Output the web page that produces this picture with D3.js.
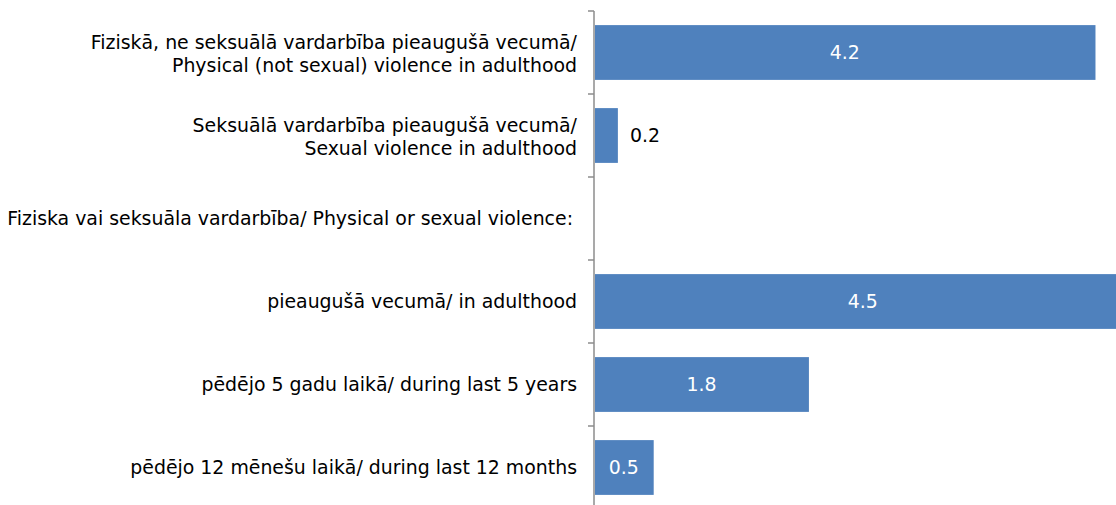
<!DOCTYPE html>
<html>
<head>
<meta charset="utf-8">
<script src="https://cdn.jsdelivr.net/npm/d3@7"></script>
<style>
  body { margin: 0; background: #fff; }
  svg { display: block; font-family: "DejaVu Sans", Verdana, sans-serif; }
</style>
</head>
<body>
<div id="chart"></div>
<script>
// Chart data
const categories = [
  ["Fiziskā, ne seksuālā vardarbība pieaugušā vecumā/", "Physical (not sexual) violence in adulthood"],
  ["Seksuālā vardarbība pieaugušā vecumā/", "Sexual violence in adulthood"],
  ["Fiziska vai seksuāla vardarbība/ Physical or sexual violence:"],
  ["pieaugušā vecumā/ in adulthood"],
  ["pēdējo 5 gadu laikā/ during last 5 years"],
  ["pēdējo 12 mēnešu laikā/ during last 12 months"]
]
const values = [4.2, 0.2, null, 4.5, 1.8, 0.5]
const labelOutside = [false, true, false, false, false, false]

const width = 1116
const height = 505
const axisX = 594
const fontSize = 18.9

const svg = d3.select("#chart").append("svg")
  .attr("width", width)
  .attr("height", height)

// y band scale, one band per category
const y = d3.scaleBand()
  .domain(d3.range(categories.length))
  .range([11, 509])
  .paddingInner(0.34)
  .paddingOuter(0.17)

// x linear scale
const x = d3.scaleLinear()
  .domain([0, 5])
  .range([axisX, axisX + 597])

const step = y.step()
const y0 = 11

// Axis line and ticks between categories
const axis = svg.append("g").attr("stroke", "#8c8c8c").attr("stroke-width", 1.5)
axis.append("line")
  .attr("x1", axisX).attr("x2", axisX)
  .attr("y1", y0).attr("y2", height)
axis.selectAll("line.tick")
  .data(d3.range(categories.length + 1))
  .enter().append("line")
    .attr("class", "tick")
    .attr("x1", axisX - 6).attr("x2", axisX)
    .attr("y1", d => y0 + d * step)
    .attr("y2", d => y0 + d * step)

// Bars
svg.append("g")
    .attr("fill", "#4f81bd")
  .selectAll("rect")
  .data(values.map((v, i) => ({ v, i })).filter(d => d.v != null))
  .enter().append("rect")
    .attr("x", x(0) + 1)
    .attr("y", d => y(d.i))
    .attr("width", d => x(d.v) - x(0) - 1)
    .attr("height", y.bandwidth())

// Value labels
svg.append("g")
    .attr("font-size", fontSize)
  .selectAll("text")
  .data(values.map((v, i) => ({ v, i })).filter(d => d.v != null))
  .enter().append("text")
    .attr("x", d => labelOutside[d.i] ? x(d.v) + 12 : (x(0) + x(d.v)) / 2)
    .attr("y", d => y(d.i) + y.bandwidth() / 2)
    .attr("dy", "0.36em")
    .attr("text-anchor", d => labelOutside[d.i] ? "start" : "middle")
    .attr("fill", d => labelOutside[d.i] ? "#000" : "#fff")
    .text(d => d.v.toFixed(1))

// Category labels
const catLabels = svg.append("g")
    .attr("font-size", fontSize)
    .attr("fill", "#000")
    .attr("text-anchor", "end")
  .selectAll("text")
  .data(categories)
  .enter().append("text")
    .attr("x", (d, i) => i === 2 ? 573 : 577)
    .attr("y", (d, i) => y(i) + y.bandwidth() / 2 - (d.length - 1) * 10)

catLabels.selectAll("tspan")
  .data(d => d)
  .enter().append("tspan")
    .attr("x", function () { return this.parentNode.getAttribute("x") })
    .attr("dy", (d, j) => j === 0 ? "0.36em" : 23)
    .text(d => d)
</script>
</body>
</html>
